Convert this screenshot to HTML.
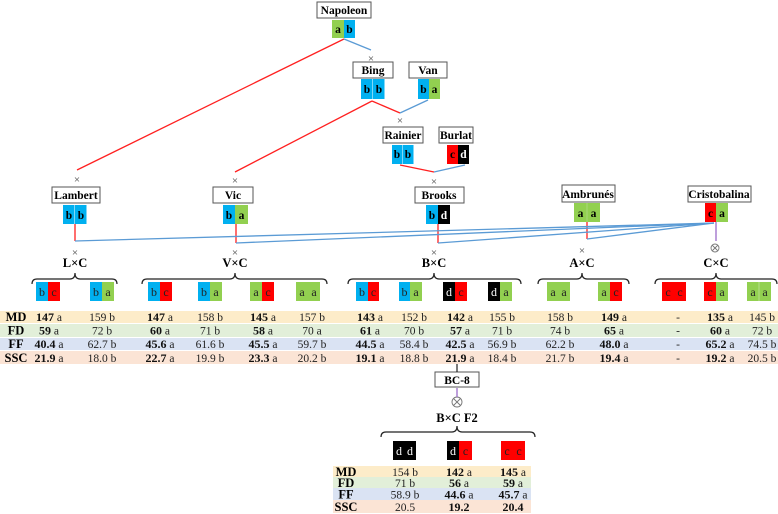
<!DOCTYPE html>
<html><head><meta charset="utf-8"><style>
html,body{margin:0;padding:0;background:#fff}
svg{display:block;font-family:"Liberation Serif","Times New Roman",serif}
svg text{font-family:"Liberation Serif","Times New Roman",serif}
.n{font-size:11.5px;font-weight:bold}
.t{font-size:11.5px;font-weight:bold}
.g{font-size:12px}
.v{font-size:11.5px;fill:#222}
.v tspan.b{font-weight:bold;font-size:12px;fill:#111}
.x{font-size:11px;fill:#444}
.lab{font-size:12.5px;font-weight:bold}
</style></head><body>
<svg width="778" height="514" viewBox="0 0 778 514" xmlns="http://www.w3.org/2000/svg" font-family="Liberation Serif, Times New Roman, serif">
<g fill="none" stroke-width="1.3">
<line x1="344" y1="39" x2="77" y2="170" stroke="#ff2020"/>
<line x1="344" y1="39" x2="371" y2="50" stroke="#5b9bd5"/>
<line x1="372" y1="101" x2="235" y2="172" stroke="#ff2020"/>
<line x1="372" y1="101" x2="400" y2="113" stroke="#ff2020"/>
<line x1="428" y1="100" x2="400" y2="113" stroke="#5b9bd5"/>
<line x1="400" y1="165" x2="434" y2="172" stroke="#ff2020"/>
<line x1="465" y1="165" x2="434" y2="172" stroke="#5b9bd5"/>
<polyline points="75,224 75,241" stroke="#ff2020"/>
<polyline points="236,224 236,243" stroke="#ff2020"/>
<polyline points="438,224 438,243" stroke="#ff2020"/>
<polyline points="587,222 587,239" stroke="#ff2020"/>
<polyline points="716,222 716,241" stroke="#9b6bc8"/>
<line x1="75" y1="241" x2="714" y2="223" stroke="#5b9bd5"/>
<line x1="236" y1="243" x2="714" y2="223" stroke="#5b9bd5"/>
<line x1="438" y1="243" x2="714" y2="223" stroke="#5b9bd5"/>
<line x1="587" y1="239" x2="714" y2="223" stroke="#5b9bd5"/>
</g>
<g class="x" text-anchor="middle">
<text x="371" y="62">×</text>
<text x="400" y="124">×</text>
<text x="434" y="185">×</text>
<text x="77" y="183">×</text>
<text x="235" y="184">×</text>
<text x="75" y="256">×</text>
<text x="235" y="256">×</text>
<text x="434" y="256">×</text>
<text x="582" y="254">×</text>
</g>
<g fill="none" stroke="#777" stroke-width="0.9"><circle cx="715" cy="248" r="4"/><line x1="712" y1="245" x2="718" y2="251"/><line x1="718" y1="245" x2="712" y2="251"/>
<circle cx="457" cy="402" r="5"/><line x1="453.5" y1="398.5" x2="460.5" y2="405.5"/><line x1="460.5" y1="398.5" x2="453.5" y2="405.5"/></g>
<g fill="#fff" stroke="#555" stroke-width="1">
<rect x="317" y="2" width="54" height="16"/>
<rect x="353" y="62" width="40" height="16"/>
<rect x="409" y="62" width="38" height="16"/>
<rect x="383" y="127" width="40" height="16"/>
<rect x="439" y="127" width="34" height="16"/>
<rect x="52" y="187" width="48" height="16"/>
<rect x="213" y="187" width="40" height="16"/>
<rect x="415" y="187" width="49" height="16"/>
<rect x="562" y="185" width="53" height="17"/>
<rect x="688" y="186" width="63" height="16"/>
<rect x="435" y="372" width="44" height="15"/>
</g>
<g class="n" text-anchor="middle">
<text x="344" y="14">Napoleon</text>
<text x="373" y="74">Bing</text>
<text x="428" y="74">Van</text>
<text x="403" y="139">Rainier</text>
<text x="456" y="139">Burlat</text>
<text x="76" y="199">Lambert</text>
<text x="233" y="199">Vic</text>
<text x="439" y="199">Brooks</text>
<text x="588" y="198">Ambrunés</text>
<text x="719" y="198">Cristobalina</text>
<text x="457" y="384">BC-8</text>
</g>
<g>
<rect x="332" y="20" width="12" height="18" fill="#92d050"/><rect x="344" y="20" width="11" height="18" fill="#00b0f0"/>
<rect x="361" y="79" width="11.5" height="20" fill="#00b0f0"/><rect x="373" y="79" width="11.5" height="20" fill="#00b0f0"/>
<rect x="418" y="79" width="11" height="20" fill="#00b0f0"/><rect x="429" y="79" width="11" height="20" fill="#92d050"/>
<rect x="392" y="145" width="10.5" height="19" fill="#00b0f0"/><rect x="403" y="145" width="10.5" height="19" fill="#00b0f0"/>
<rect x="447" y="145" width="11" height="19" fill="#ff0000"/><rect x="458" y="145" width="11" height="19" fill="#000"/>
<rect x="63" y="205" width="11.5" height="19" fill="#00b0f0"/><rect x="75" y="205" width="11.5" height="19" fill="#00b0f0"/>
<rect x="223" y="205" width="12" height="19" fill="#00b0f0"/><rect x="235" y="205" width="13" height="19" fill="#92d050"/>
<rect x="426" y="205" width="12" height="19" fill="#00b0f0"/><rect x="438" y="205" width="12" height="19" fill="#000"/>
<rect x="574" y="203" width="26" height="19" fill="#92d050"/><line x1="587" y1="203" x2="587" y2="222" stroke="#aad87a"/>
<rect x="705" y="203" width="11" height="19" fill="#ff0000"/><rect x="716" y="203" width="12" height="19" fill="#92d050"/>
</g>
<g class="t" text-anchor="middle">
<text x="338" y="33">a</text><text x="349.5" y="33">b</text>
<text x="367" y="93">b</text><text x="379" y="93">b</text>
<text x="423.5" y="93">b</text><text x="434.5" y="93">a</text>
<text x="397" y="158">b</text><text x="408" y="158">b</text>
<text x="452.5" y="158">c</text><text x="463.5" y="158" fill="#fff">d</text>
<text x="69" y="219">b</text><text x="81" y="219">b</text>
<text x="229" y="219">b</text><text x="241.5" y="219">a</text>
<text x="432" y="219">b</text><text x="444" y="219" fill="#fff">d</text>
<text x="580.5" y="217">a</text><text x="593.5" y="217">a</text>
<text x="710.5" y="217">c</text><text x="722" y="217">a</text>
</g>
<g class="lab" text-anchor="middle">
<text x="75" y="267">L×C</text>
<text x="235" y="267">V×C</text>
<text x="434" y="267">B×C</text>
<text x="582" y="267">A×C</text>
<text x="716" y="267">C×C</text>
<text x="457" y="422">B×C F2</text>
</g>
<g fill="none" stroke="#222" stroke-width="1.2">
<path d="M32,284 Q32,279 37,279 L70,279 Q75,279 75,273 Q75,279 80,279 L112,279 Q117,279 117,284"/>
<path d="M142,284 Q142,279 147,279 L230,279 Q235,279 235,273 Q235,279 240,279 L322,279 Q327,279 327,284"/>
<path d="M348,284 Q348,279 353,279 L429,279 Q434,279 434,273 Q434,279 439,279 L516,279 Q521,279 521,284"/>
<path d="M538,284 Q538,279 543,279 L577,279 Q582,279 582,273 Q582,279 587,279 L624,279 Q629,279 629,284"/>
<path d="M655,284 Q655,279 660,279 L711,279 Q716,279 716,273 Q716,279 721,279 L772,279 Q777,279 777,284"/>
<path d="M381,437 Q381,432 386,432 L452,432 Q457,432 457,426 Q457,432 462,432 L530,432 Q535,432 535,437"/>
<line x1="457" y1="364" x2="457" y2="372"/>
</g>
<line x1="457" y1="388" x2="457" y2="397" stroke="#9b6bc8" stroke-width="1.3"/>
<g>
<rect x="36" y="282" width="12" height="19" fill="#00b0f0"/><rect x="48" y="282" width="12" height="19" fill="#ff0000"/>
<rect x="90" y="282" width="12" height="19" fill="#00b0f0"/><rect x="102" y="282" width="12" height="19" fill="#92d050"/>
<rect x="148" y="282" width="12" height="19" fill="#00b0f0"/><rect x="160" y="282" width="12" height="19" fill="#ff0000"/>
<rect x="198" y="282" width="12" height="19" fill="#00b0f0"/><rect x="210" y="282" width="12" height="19" fill="#92d050"/>
<rect x="250" y="282" width="12" height="19" fill="#92d050"/><rect x="262" y="282" width="12" height="19" fill="#ff0000"/>
<rect x="296" y="282" width="24" height="19" fill="#92d050"/>
<rect x="356" y="282" width="12" height="19" fill="#00b0f0"/><rect x="368" y="282" width="11" height="19" fill="#ff0000"/>
<rect x="399" y="282" width="11" height="19" fill="#00b0f0"/><rect x="410" y="282" width="12" height="19" fill="#92d050"/>
<rect x="443" y="282" width="12" height="19" fill="#000"/><rect x="455" y="282" width="12" height="19" fill="#ff0000"/>
<rect x="488" y="282" width="12" height="19" fill="#000"/><rect x="500" y="282" width="12" height="19" fill="#92d050"/>
<rect x="547" y="282" width="23" height="19" fill="#92d050"/>
<rect x="598" y="282" width="12" height="19" fill="#92d050"/><rect x="610" y="282" width="12" height="19" fill="#ff0000"/>
<rect x="662" y="282" width="24" height="19" fill="#ff0000"/>
<rect x="704" y="282" width="12" height="19" fill="#ff0000"/><rect x="716" y="282" width="12" height="19" fill="#92d050"/>
<rect x="747" y="282" width="24" height="19" fill="#92d050"/><line x1="759" y1="282" x2="759" y2="301" stroke="#b5de8c"/>
<rect x="393" y="441" width="23" height="19" fill="#000"/>
<rect x="447" y="441" width="12" height="19" fill="#000"/><rect x="459" y="441" width="13" height="19" fill="#ff0000"/>
<rect x="501" y="441" width="24" height="19" fill="#ff0000"/>
</g>
<g class="g" text-anchor="middle" fill="#222">
<text x="42" y="296">b</text><text x="54" y="296">c</text>
<text x="96" y="296">b</text><text x="108" y="296">a</text>
<text x="154" y="296">b</text><text x="166" y="296">c</text>
<text x="204" y="296">b</text><text x="216" y="296">a</text>
<text x="256" y="296">a</text><text x="268" y="296">c</text>
<text x="302" y="296">a</text><text x="314" y="296">a</text>
<text x="362" y="296">b</text><text x="373.5" y="296">c</text>
<text x="404.5" y="296">b</text><text x="416" y="296">a</text>
<text x="449" y="296" fill="#fff">d</text><text x="461" y="296">c</text>
<text x="494" y="296" fill="#fff">d</text><text x="506" y="296">a</text>
<text x="553" y="296">a</text><text x="564" y="296">a</text>
<text x="604" y="296">a</text><text x="616" y="296">c</text>
<text x="668" y="296">c</text><text x="680" y="296">c</text>
<text x="710" y="296">c</text><text x="722" y="296">a</text>
<text x="753" y="296">a</text><text x="765" y="296">a</text>
<text x="399" y="455" fill="#fff">d</text><text x="410" y="455" fill="#fff">d</text>
<text x="453" y="455" fill="#fff">d</text><text x="465.5" y="455">c</text>
<text x="507" y="455">c</text><text x="519" y="455">c</text>
</g>
<rect x="0" y="311" width="778" height="12" fill="#fdecc9"/>
<rect x="0" y="324" width="778" height="13" fill="#e2efd9"/>
<rect x="0" y="338" width="778" height="12" fill="#dae3f3"/>
<rect x="0" y="351" width="778" height="13" fill="#fbe4d5"/>
<rect x="333" y="466" width="198" height="11" fill="#fdecc9"/>
<rect x="333" y="477" width="198" height="11" fill="#e2efd9"/>
<rect x="333" y="488" width="198" height="12" fill="#dae3f3"/>
<rect x="333" y="500" width="198" height="13" fill="#fbe4d5"/>
<g class="lab" text-anchor="middle">
<text x="16" y="321">MD</text><text x="16" y="334.5">FD</text><text x="16" y="348">FF</text><text x="16" y="362">SSC</text>
<text x="346" y="476">MD</text><text x="346" y="487">FD</text><text x="346" y="498.5">FF</text><text x="346" y="511">SSC</text>
</g>
<g class="v" text-anchor="middle">
<text x="49" y="321"><tspan class="b">147</tspan> a</text>
<text x="102" y="321">159 b</text>
<text x="160" y="321"><tspan class="b">147</tspan> a</text>
<text x="210" y="321">158 b</text>
<text x="263" y="321"><tspan class="b">145</tspan> a</text>
<text x="312" y="321">157 b</text>
<text x="370" y="321"><tspan class="b">143</tspan> a</text>
<text x="414" y="321">152 b</text>
<text x="460" y="321"><tspan class="b">142</tspan> a</text>
<text x="502" y="321">155 b</text>
<text x="560" y="321">158 b</text>
<text x="614" y="321"><tspan class="b">149</tspan> a</text>
<text x="678" y="321">-</text>
<text x="720" y="321"><tspan class="b">135</tspan> a</text>
<text x="762" y="321">145 b</text>
<text x="49" y="334.5"><tspan class="b">59</tspan> a</text>
<text x="102" y="334.5">72 b</text>
<text x="160" y="334.5"><tspan class="b">60</tspan> a</text>
<text x="210" y="334.5">71 b</text>
<text x="263" y="334.5"><tspan class="b">58</tspan> a</text>
<text x="312" y="334.5">70 a</text>
<text x="370" y="334.5"><tspan class="b">61</tspan> a</text>
<text x="414" y="334.5">70 b</text>
<text x="460" y="334.5"><tspan class="b">57</tspan> a</text>
<text x="502" y="334.5">71 b</text>
<text x="560" y="334.5">74 b</text>
<text x="614" y="334.5"><tspan class="b">65</tspan> a</text>
<text x="678" y="334.5">-</text>
<text x="720" y="334.5"><tspan class="b">60</tspan> a</text>
<text x="762" y="334.5">72 b</text>
<text x="49" y="348"><tspan class="b">40.4</tspan> a</text>
<text x="102" y="348">62.7 b</text>
<text x="160" y="348"><tspan class="b">45.6</tspan> a</text>
<text x="210" y="348">61.6 b</text>
<text x="263" y="348"><tspan class="b">45.5</tspan> a</text>
<text x="312" y="348">59.7 b</text>
<text x="370" y="348"><tspan class="b">44.5</tspan> a</text>
<text x="414" y="348">58.4 b</text>
<text x="460" y="348"><tspan class="b">42.5</tspan> a</text>
<text x="502" y="348">56.9 b</text>
<text x="560" y="348">62.2 b</text>
<text x="614" y="348"><tspan class="b">48.0</tspan> a</text>
<text x="678" y="348">-</text>
<text x="720" y="348"><tspan class="b">65.2</tspan> a</text>
<text x="762" y="348">74.5 b</text>
<text x="49" y="362"><tspan class="b">21.9</tspan> a</text>
<text x="102" y="362">18.0 b</text>
<text x="160" y="362"><tspan class="b">22.7</tspan> a</text>
<text x="210" y="362">19.9 b</text>
<text x="263" y="362"><tspan class="b">23.3</tspan> a</text>
<text x="312" y="362">20.2 b</text>
<text x="370" y="362"><tspan class="b">19.1</tspan> a</text>
<text x="414" y="362">18.8 b</text>
<text x="460" y="362"><tspan class="b">21.9</tspan> a</text>
<text x="502" y="362">18.4 b</text>
<text x="560" y="362">21.7 b</text>
<text x="614" y="362"><tspan class="b">19.4</tspan> a</text>
<text x="678" y="362">-</text>
<text x="720" y="362"><tspan class="b">19.2</tspan> a</text>
<text x="762" y="362">20.5 b</text>
<text x="405" y="476">154 b</text>
<text x="459" y="476"><tspan class="b">142</tspan> a</text>
<text x="513" y="476"><tspan class="b">145</tspan> a</text>
<text x="405" y="487">71 b</text>
<text x="459" y="487"><tspan class="b">56</tspan> a</text>
<text x="513" y="487"><tspan class="b">59</tspan> a</text>
<text x="405" y="498.5">58.9 b</text>
<text x="459" y="498.5"><tspan class="b">44.6</tspan> a</text>
<text x="513" y="498.5"><tspan class="b">45.7</tspan> a</text>
<text x="405" y="511">20.5</text>
<text x="459" y="511"><tspan class="b">19.2</tspan></text>
<text x="513" y="511"><tspan class="b">20.4</tspan></text>
</g>
</svg>
</body></html>
